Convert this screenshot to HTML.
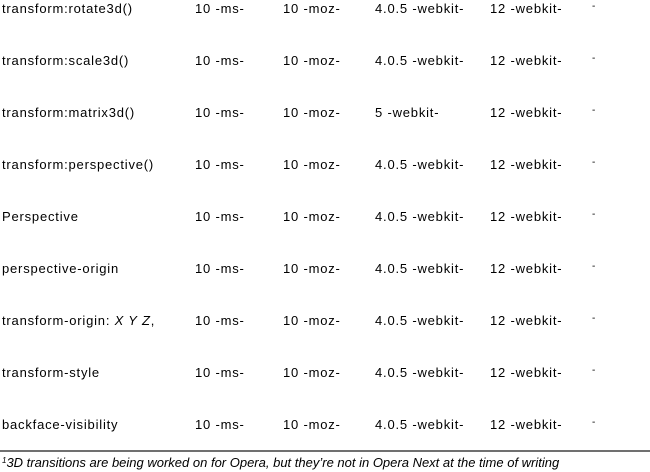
<!DOCTYPE html>
<html><head><meta charset="utf-8"><style>
body{margin:0;width:650px;height:472px;background:#fff;position:relative;overflow:hidden;font-family:"Liberation Sans",Arial,sans-serif;font-size:13px;color:#000}
.c{position:absolute;line-height:14px;white-space:nowrap;letter-spacing:0.8px}
.d{position:absolute;font-size:10px;line-height:10px}
#rule{position:absolute;left:0;top:450px;width:650px;height:2px;background:#707070}
#fn{position:absolute;left:2px;top:455px;font-style:italic;line-height:15px;white-space:nowrap}
sup{font-size:8px;vertical-align:top;position:relative;top:-2px}
</style></head><body>
<div id="rows"></div>
<div id="rule"></div>
<div id="fn"><sup>1</sup>3D transitions are being worked on for Opera, but they’re not in Opera Next at the time of writing</div>
<script>
const props=["transform:rotate3d()","transform:scale3d()","transform:matrix3d()","transform:perspective()","Perspective","perspective-origin","transform-origin: <i>X Y Z</i>,","transform-style","backface-visibility"];
const ie=["10 -ms-","10 -ms-","10 -ms-","10 -ms-","10 -ms-","10 -ms-","10 -ms-","10 -ms-","10 -ms-"];
const ff=["10 -moz-","10 -moz-","10 -moz-","10 -moz-","10 -moz-","10 -moz-","10 -moz-","10 -moz-","10 -moz-"];
const saf=["4.0.5 -webkit-","4.0.5 -webkit-","5 -webkit-","4.0.5 -webkit-","4.0.5 -webkit-","4.0.5 -webkit-","4.0.5 -webkit-","4.0.5 -webkit-","4.0.5 -webkit-"];
const chr=["12 -webkit-","12 -webkit-","12 -webkit-","12 -webkit-","12 -webkit-","12 -webkit-","12 -webkit-","12 -webkit-","12 -webkit-"];
const root=document.getElementById('rows');
const cols=[[props,2,'property-name'],[ie,195,'ie-support'],[ff,283,'firefox-support'],[saf,375,'safari-support'],[chr,490,'chrome-support']];
props.forEach((p,i)=>{
  const top=2+52*i;
  cols.forEach(([arr,x,n])=>{
    const el=document.createElement('div');
    el.className='c';el.style.left=x+'px';el.style.top=top+'px';el.innerHTML=arr[i];
    
    
    root.appendChild(el);
  });
  const d=document.createElement('div');
  d.className='d';d.style.left='592px';d.style.top=(top)+'px';d.textContent='-';
  
  
  root.appendChild(d);
});
</script>
</body></html>
